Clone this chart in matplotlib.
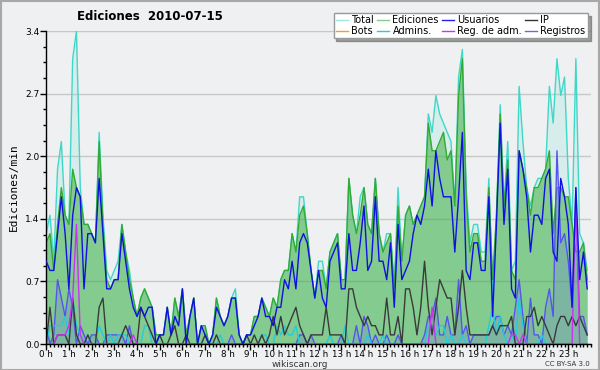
import numpy as np
import matplotlib
matplotlib.use("Agg")
import matplotlib.pyplot as plt
from matplotlib.lines import Line2D
from matplotlib.patches import Rectangle
from matplotlib.ticker import FixedLocator, MultipleLocator

# edits per minute, one value per 10-minute slot (6 per hour, 24 hours)
total = [
    1.2, 1.4, 0.9, 1.9, 2.2, 1.4,  1.3, 3.1, 3.4, 1.7, 1.3, 1.3,
    1.2, 1.1, 2.3, 1.4, 0.8, 0.7,  0.8, 0.9, 1.3, 1.0, 0.8, 0.5,
    0.3, 0.5, 0.6, 0.5, 0.4, 0.1,  0.1, 0.1, 0.4, 0.1, 0.5, 0.3,
    0.6, 0.1, 0.3, 0.5, 0.0, 0.2,  0.2, 0.0, 0.1, 0.5, 0.3, 0.2,
    0.3, 0.5, 0.6, 0.1, 0.0, 0.1,  0.1, 0.3, 0.3, 0.5, 0.4, 0.3,
    0.5, 0.4, 0.7, 0.8, 0.8, 1.2,  1.0, 1.6, 1.6, 1.2, 0.8, 0.5,
    0.9, 0.9, 0.6, 1.0, 1.1, 1.2,  0.7, 0.7, 1.8, 1.4, 1.2, 1.6,
    1.7, 1.3, 1.2, 1.8, 1.2, 1.0,  1.2, 1.2, 0.6, 1.7, 0.9, 1.4,
    1.5, 1.3, 1.4, 1.5, 1.6, 2.5,  2.3, 2.7, 2.5, 2.4, 2.3, 2.2,
    1.5, 2.9, 3.2, 1.7, 1.1, 1.3,  1.3, 1.0, 1.0, 1.8, 0.5, 1.4,
    2.6, 1.5, 2.2, 0.8, 0.9, 2.8,  2.2, 1.7, 1.5, 1.7, 1.8, 1.8,
    1.9, 2.8, 2.4, 3.1, 2.7, 2.9,  1.8, 1.3, 3.1, 1.2, 1.1, 0.8,
]
ediciones = [
    1.1, 1.2, 0.8, 1.3, 1.7, 1.4,  1.3, 1.9, 1.7, 1.6, 1.3, 1.3,
    1.2, 1.1, 2.2, 1.3, 0.7, 0.6,  0.7, 0.7, 1.3, 1.0, 0.7, 0.5,
    0.3, 0.5, 0.6, 0.5, 0.4, 0.1,  0.1, 0.1, 0.4, 0.1, 0.5, 0.3,
    0.6, 0.1, 0.3, 0.5, 0.0, 0.2,  0.2, 0.0, 0.1, 0.5, 0.3, 0.2,
    0.3, 0.5, 0.5, 0.1, 0.0, 0.1,  0.1, 0.3, 0.3, 0.5, 0.4, 0.3,
    0.5, 0.4, 0.7, 0.8, 0.8, 1.2,  1.0, 1.4, 1.5, 1.2, 0.8, 0.5,
    0.8, 0.8, 0.6, 1.0, 1.1, 1.2,  0.7, 0.7, 1.8, 1.4, 1.2, 1.4,
    1.7, 1.3, 1.2, 1.8, 1.2, 1.0,  1.1, 1.2, 0.6, 1.5, 0.9, 1.4,
    1.5, 1.3, 1.4, 1.5, 1.6, 2.4,  2.1, 2.1, 2.2, 2.3, 2.0, 2.1,
    1.5, 2.7, 3.1, 1.6, 1.0, 1.2,  1.2, 0.9, 0.9, 1.7, 0.7, 1.4,
    2.5, 1.5, 2.0, 0.8, 0.7, 2.1,  1.9, 1.7, 1.4, 1.7, 1.7, 1.8,
    1.9, 2.1, 1.2, 1.7, 1.7, 1.6,  1.6, 1.3, 1.0, 1.0, 1.1, 0.7,
]
usuarios = [
    0.9, 0.8, 0.8, 1.2, 1.6, 1.2,  0.6, 1.4, 1.7, 1.6, 0.6, 1.2,
    1.2, 1.1, 1.8, 1.2, 0.6, 0.6,  0.7, 0.7, 1.2, 0.9, 0.6, 0.4,
    0.3, 0.4, 0.3, 0.4, 0.4, 0.0,  0.1, 0.1, 0.4, 0.1, 0.3, 0.2,
    0.6, 0.0, 0.3, 0.5, 0.0, 0.2,  0.1, 0.0, 0.1, 0.4, 0.3, 0.2,
    0.3, 0.5, 0.5, 0.1, 0.0, 0.1,  0.1, 0.2, 0.3, 0.5, 0.3, 0.3,
    0.2, 0.4, 0.4, 0.7, 0.6, 0.9,  0.6, 1.1, 1.2, 1.1, 0.8, 0.5,
    0.8, 0.5, 0.4, 0.9, 1.0, 1.1,  0.6, 0.6, 1.2, 0.8, 0.8, 1.1,
    1.5, 0.8, 0.9, 1.6, 0.9, 0.9,  0.7, 1.1, 0.4, 1.3, 0.7, 0.8,
    0.9, 1.2, 1.4, 1.3, 1.5, 1.9,  1.5, 2.1, 1.8, 1.6, 1.6, 1.6,
    1.0, 1.6, 2.3, 0.8, 0.7, 1.1,  1.1, 0.8, 0.8, 1.6, 0.3, 1.3,
    2.4, 1.3, 1.9, 0.6, 0.5, 2.1,  1.9, 1.6, 1.0, 1.4, 1.4, 1.3,
    1.8, 1.9, 1.0, 0.9, 1.8, 1.6,  1.3, 0.4, 1.7, 0.7, 1.0, 0.6,
]
ip = [
    0.0, 0.4, 0.0, 0.1, 0.1, 0.1,  0.0, 0.5, 0.1, 0.0, 0.0, 0.1,
    0.0, 0.0, 0.4, 0.5, 0.0, 0.0,  0.0, 0.0, 0.1, 0.2, 0.1, 0.0,
    0.0, 0.4, 0.3, 0.2, 0.1, 0.0,  0.1, 0.0, 0.0, 0.1, 0.2, 0.0,
    0.0, 0.1, 0.0, 0.0, 0.0, 0.0,  0.1, 0.0, 0.0, 0.1, 0.0, 0.0,
    0.0, 0.0, 0.0, 0.0, 0.0, 0.1,  0.0, 0.1, 0.0, 0.1, 0.0, 0.1,
    0.3, 0.1, 0.3, 0.1, 0.2, 0.3,  0.4, 0.2, 0.1, 0.0, 0.1, 0.1,
    0.1, 0.1, 0.4, 0.1, 0.1, 0.1,  0.1, 0.0, 0.6, 0.6, 0.4, 0.3,
    0.2, 0.3, 0.2, 0.2, 0.1, 0.1,  0.5, 0.1, 0.1, 0.3, 0.0, 0.6,
    0.6, 0.4, 0.1, 0.4, 0.9, 0.4,  0.1, 0.4, 0.7, 0.6, 0.5, 0.5,
    0.1, 0.4, 0.8, 0.4, 0.1, 0.1,  0.1, 0.1, 0.1, 0.1, 0.2, 0.1,
    0.2, 0.2, 0.2, 0.3, 0.0, 0.0,  0.0, 0.3, 0.3, 0.4, 0.2, 0.3,
    0.2, 0.1, 0.0, 0.2, 0.3, 0.3,  0.2, 0.3, 0.2, 0.3, 0.2, 0.1,
]
bots = [0.0] * 144
admins = [
    0.0, 0.2, 0.2, 0.2, 0.2, 0.3,  0.1, 0.5, 0.2, 0.1, 0.0, 0.1,
    0.0, 0.0, 0.2, 0.1, 0.0, 0.1,  0.0, 0.1, 0.1, 0.1, 0.0, 0.0,
    0.0, 0.0, 0.2, 0.2, 0.0, 0.0,  0.0, 0.0, 0.0, 0.0, 0.0, 0.0,
    0.0, 0.0, 0.0, 0.0, 0.0, 0.0,  0.0, 0.0, 0.0, 0.0, 0.1, 0.0,
    0.0, 0.0, 0.0, 0.0, 0.0, 0.0,  0.0, 0.0, 0.0, 0.1, 0.1, 0.0,
    0.0, 0.2, 0.1, 0.2, 0.1, 0.1,  0.2, 0.0, 0.0, 0.0, 0.0, 0.0,
    0.0, 0.0, 0.0, 0.1, 0.0, 0.0,  0.0, 0.2, 0.0, 0.0, 0.0, 0.0,
    0.0, 0.1, 0.0, 0.0, 0.0, 0.1,  0.0, 0.0, 0.0, 0.0, 0.0, 0.0,
    0.0, 0.0, 0.0, 0.0, 0.0, 0.2,  0.2, 0.1, 0.2, 0.2, 0.0, 0.1,
    0.0, 0.0, 0.1, 0.0, 0.0, 0.0,  0.0, 0.0, 0.0, 0.2, 0.4, 0.1,
    0.3, 0.1, 0.0, 0.1, 0.0, 0.5,  0.2, 0.0, 0.0, 0.0, 0.0, 0.1,
    0.0, 0.0, 0.0, 0.0, 0.0, 0.0,  0.0, 0.0, 0.0, 0.0, 0.0, 0.0,
]
reg_adm = [
    0.0, 0.0, 0.0, 0.1, 0.1, 0.1,  0.2, 0.5, 1.3, 0.1, 0.0, 0.0,
    0.0, 0.0, 0.0, 0.0, 0.0, 0.0,  0.0, 0.0, 0.0, 0.0, 0.0, 0.1,
    0.0, 0.0, 0.0, 0.0, 0.0, 0.0,  0.0, 0.0, 0.0, 0.0, 0.0, 0.0,
    0.0, 0.0, 0.0, 0.0, 0.0, 0.0,  0.0, 0.0, 0.0, 0.0, 0.0, 0.0,
    0.0, 0.0, 0.0, 0.0, 0.0, 0.0,  0.0, 0.0, 0.0, 0.0, 0.0, 0.0,
    0.0, 0.0, 0.0, 0.0, 0.0, 0.0,  0.0, 0.0, 0.0, 0.0, 0.0, 0.0,
    0.0, 0.0, 0.0, 0.0, 0.0, 0.0,  0.0, 0.0, 0.0, 0.0, 0.0, 0.0,
    0.0, 0.0, 0.0, 0.0, 0.0, 0.0,  0.0, 0.0, 0.0, 0.0, 0.0, 0.0,
    0.0, 0.0, 0.0, 0.0, 0.0, 0.0,  0.4, 0.0, 0.0, 0.0, 0.0, 0.0,
    0.0, 0.0, 0.0, 0.0, 0.0, 0.0,  0.0, 0.0, 0.0, 0.0, 0.0, 0.0,
    0.0, 0.0, 0.0, 0.1, 0.1, 0.0,  0.1, 0.0, 0.0, 0.0, 0.0, 0.0,
    0.0, 0.0, 0.0, 0.0, 0.0, 0.0,  0.0, 0.0, 1.7, 0.0, 0.0, 0.0,
]
registros = [
    0.2, 0.0, 0.1, 0.7, 0.5, 0.3,  0.6, 0.4, 0.0, 0.2, 0.1, 0.0,
    0.1, 0.1, 0.0, 0.0, 0.1, 0.1,  0.1, 0.1, 0.1, 0.0, 0.2, 0.0,
    0.0, 0.0, 0.0, 0.0, 0.0, 0.0,  0.0, 0.0, 0.0, 0.0, 0.0, 0.0,
    0.0, 0.0, 0.0, 0.0, 0.0, 0.0,  0.0, 0.0, 0.0, 0.0, 0.0, 0.0,
    0.0, 0.1, 0.0, 0.0, 0.0, 0.0,  0.0, 0.0, 0.0, 0.0, 0.0, 0.0,
    0.0, 0.0, 0.0, 0.0, 0.0, 0.0,  0.0, 0.1, 0.1, 0.0, 0.1, 0.0,
    0.0, 0.0, 0.0, 0.0, 0.0, 0.0,  0.1, 0.0, 0.0, 0.0, 0.2, 0.0,
    0.3, 0.2, 0.0, 0.1, 0.0, 0.0,  0.1, 0.0, 0.0, 0.1, 0.0, 0.0,
    0.0, 0.0, 0.0, 0.0, 0.1, 0.3,  0.3, 0.5, 0.1, 0.1, 0.3, 0.1,
    0.1, 0.7, 0.1, 0.2, 0.0, 0.1,  0.1, 0.1, 0.1, 0.1, 0.2, 0.3,
    0.3, 0.1, 0.2, 0.1, 0.4, 0.7,  0.3, 0.0, 0.5, 0.1, 0.1, 0.0,
    0.4, 0.6, 0.3, 2.1, 1.1, 1.2,  0.9, 0.4, 1.5, 0.3, 0.3, 0.1,
]
hour_labels = [f"{h} h" for h in range(24)]
y_ticks = [0.0, 0.68, 1.36, 2.04, 2.72, 3.4]
y_labels = ["0.0", "0.7", "1.4", "2.0", "2.7", "3.4"]

BG = "#eef0f1"
x = np.arange(len(total)) / 6.0

fig = plt.figure(figsize=(6, 3.7), dpi=100, facecolor=BG)
ax = fig.add_axes([0.077, 0.070, 0.908, 0.846], facecolor=BG)

# filled areas
ax.fill_between(x, total, color="#40e0d0", alpha=0.13, lw=0, zorder=1)
ax.fill_between(x, ediciones, color="#33aa33", alpha=0.5, lw=0, zorder=1.1)
ax.fill_between(x, registros, color="#5a5aff", alpha=0.18, lw=0, zorder=1.2)

lw = 1.0
ax.plot(x, total, color="#3fd8c8", lw=lw, zorder=2)
ax.plot(x, ediciones, color="#33aa33", lw=lw, zorder=2.1)
ax.plot(x, bots, color="#ff9922", lw=lw, zorder=1.5)
ax.plot(x, registros, color="#5555ee", lw=lw, zorder=2.2)
ax.plot(x, admins, color="#22ccdd", lw=lw, zorder=2.3)
ax.plot(x, ip, color="#3a3a3a", lw=lw, zorder=2.4)
ax.plot(x, reg_adm, color="#cc33ee", lw=lw, zorder=2.5)
ax.plot(x, usuarios, color="#1010e0", lw=lw, zorder=2.6)

ax.set_xlim(0, 24)
ax.set_ylim(0, 3.4)
ax.set_xticks(range(24))
ax.set_xticklabels(hour_labels, fontsize=6.3)
ax.xaxis.set_minor_locator(MultipleLocator(1 / 6))
ax.set_yticks(y_ticks)
ax.set_yticklabels(y_labels, fontsize=6.5)
ax.yaxis.set_minor_locator(FixedLocator(np.arange(0, 3.41, 0.17)))
ax.tick_params(axis="both", which="major", length=4, width=1, direction="out", pad=1)
ax.tick_params(axis="x", which="major", pad=0)
ax.tick_params(axis="both", which="minor", length=2.5, width=1, direction="out")
ax.grid(axis="y", which="major", color="#c8c8c8", lw=1)
ax.set_axisbelow(True)
for side in ("top", "right"):
    ax.spines[side].set_visible(False)
for side in ("left", "bottom"):
    ax.spines[side].set_color("black")
    ax.spines[side].set_linewidth(1)
ax.set_ylabel("Ediciones/min", family="DejaVu Sans Mono", fontsize=8, labelpad=4)

fig.text(0.25, 0.955, "Ediciones  2010-07-15", ha="center", va="center",
         fontsize=8.5, fontweight="bold")
fig.text(0.5, 0.016, "wikiscan.org", ha="center", va="center", fontsize=6.5, color="#333333")
fig.text(0.983, 0.016, "CC BY-SA 3.0", ha="right", va="center", fontsize=5, color="#333333")

# legend, filled column by column
names = ["Total", "Bots", "Ediciones", "Admins.", "Usuarios", "Reg. de adm.", "IP", "Registros"]
colors = ["#9fe6dc", "#ff9922", "#88cc88", "#22ccdd", "#2222ee", "#cc33ee", "#333333", "#6666ee"]
handles = [Line2D([], [], color=c, lw=1) for c in colors]
leg = fig.legend(handles, names, ncol=4, loc="upper right", bbox_to_anchor=(0.988, 0.978),
                 fontsize=7, handlelength=1.2, handletextpad=0.35, columnspacing=0.35,
                 labelspacing=0.05, borderpad=0.25, fancybox=False, shadow=True,
                 framealpha=1, edgecolor="#999999", facecolor="white")

fig.patches.append(Rectangle((0.001, 0.001), 0.997, 0.996, transform=fig.transFigure,
                             fill=False, edgecolor="#a8a8a8", lw=1.5))

fig.savefig("out.png", dpi=100, facecolor=BG)
